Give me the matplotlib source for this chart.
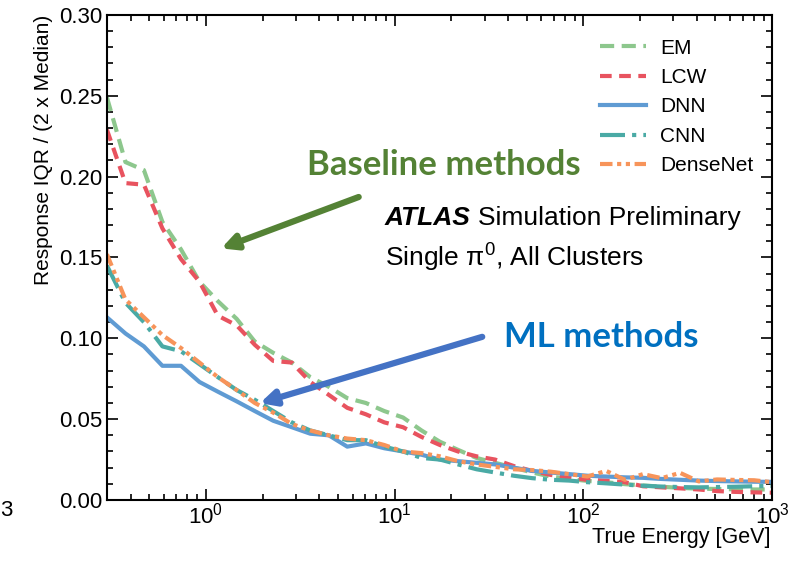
import numpy as np
import matplotlib
matplotlib.use("Agg")
import matplotlib.pyplot as plt
import matplotlib.ticker as tick

plt.rcParams['font.family'] = ['Liberation Sans', 'DejaVu Sans']
plt.rcParams['mathtext.fontset'] = 'custom'
plt.rcParams['mathtext.rm'] = 'Liberation Sans'
plt.rcParams['mathtext.it'] = 'Liberation Sans:italic'
plt.rcParams['mathtext.bf'] = 'Liberation Sans:bold'

# true energy bin centres [GeV]
energy = [0.300, 0.376, 0.471, 0.590, 0.740, 0.927, 1.16, 1.46, 1.82, 2.28,
          2.86, 3.58, 4.49, 5.62, 7.05, 8.83, 11.1, 13.9, 17.4, 21.7,
          27.2, 34.1, 42.8, 53.6, 67.2, 84.1, 105, 132, 166, 207,
          260, 325, 408, 511, 640, 802, 1000]

em = [0.249, 0.209, 0.204, 0.172, 0.155, 0.135, 0.123, 0.112, 0.098, 0.091,
      0.085, 0.076, 0.070, 0.063, 0.060, 0.055, 0.051, 0.043, 0.036, 0.031,
      0.026, 0.023, 0.020, 0.017, 0.0145, 0.013, 0.0118, 0.011, 0.0098, 0.009,
      0.0082, 0.0075, 0.0070, 0.0068, 0.0066, 0.0065, 0.0065]

lcw = [0.229, 0.196, 0.195, 0.168, 0.149, 0.135, 0.114, 0.108, 0.096, 0.086,
       0.085, 0.073, 0.065, 0.057, 0.053, 0.048, 0.045, 0.039, 0.034, 0.030,
       0.027, 0.025, 0.021, 0.018, 0.0155, 0.014, 0.0124, 0.012, 0.011, 0.0085,
       0.0078, 0.0072, 0.0065, 0.0055, 0.0050, 0.0047, 0.0045]

dnn = [0.113, 0.103, 0.095, 0.083, 0.083, 0.073, 0.067, 0.061, 0.055, 0.049,
       0.045, 0.041, 0.040, 0.033, 0.035, 0.032, 0.030, 0.028, 0.025, 0.024,
       0.023, 0.022, 0.020, 0.018, 0.017, 0.016, 0.015, 0.0145, 0.014, 0.0137,
       0.013, 0.0125, 0.012, 0.0117, 0.0115, 0.0113, 0.0112]

cnn = [0.145, 0.122, 0.110, 0.095, 0.092, 0.084, 0.076, 0.068, 0.062, 0.055,
       0.048, 0.043, 0.040, 0.037, 0.037, 0.033, 0.030, 0.026, 0.025, 0.022,
       0.019, 0.017, 0.015, 0.0135, 0.0125, 0.012, 0.011, 0.0103, 0.0095, 0.0088,
       0.0083, 0.0080, 0.0078, 0.0080, 0.0082, 0.0085, 0.0087]

densenet = [0.152, 0.124, 0.113, 0.102, 0.094, 0.085, 0.076, 0.068, 0.060, 0.054,
            0.047, 0.043, 0.040, 0.038, 0.037, 0.034, 0.030, 0.029, 0.027, 0.024,
            0.022, 0.0205, 0.019, 0.0185, 0.0175, 0.016, 0.0145, 0.018, 0.0125, 0.016,
            0.0135, 0.0168, 0.0115, 0.0127, 0.0124, 0.0122, 0.011]

fig = plt.figure(figsize=(7.92, 5.64), dpi=100)
ax = fig.add_axes([0.135, 0.1135, 0.84, 0.86])

lw = 3.0
ax.plot(energy, em, color='#8dc78d', lw=lw, dashes=(3.4, 1.8), label='EM')
ax.plot(energy, lcw, color='#e8535f', lw=lw, dashes=(2.8, 1.8), label='LCW')
ax.plot(energy, dnn, color='#5f9bd3', lw=lw, label='DNN')
ax.plot(energy, cnn, color='#4aaaa5', lw=lw, dashes=(6.0, 1.7, 1.0, 1.7), label='CNN')
ax.plot(energy, densenet, color='#f7945a', lw=lw, dashes=(3.0, 1.1, 1.0, 1.1, 1.0, 1.1), label='DenseNet')

ax.set_xscale('log')
ax.set_xlim(0.3, 1000)
ax.set_ylim(0, 0.30)
ax.yaxis.set_major_locator(tick.MultipleLocator(0.05))
ax.yaxis.set_minor_locator(tick.MultipleLocator(0.01))
ax.yaxis.set_major_formatter(tick.FormatStrFormatter('%.2f'))
ax.tick_params(which='both', direction='in', top=True, right=True, labelsize=16, width=1.2)
ax.tick_params(which='major', length=8)
ax.tick_params(which='minor', length=4)
ax.tick_params(axis='x', which='major', pad=2)
for s in ax.spines.values():
    s.set_linewidth(1.5)

ax.set_xlabel('True Energy [GeV]', fontsize=15.5, loc='right')
ax.xaxis.set_label_coords(0.997, -0.056)
ax.set_ylabel('Response IQR / (2 x Median)', fontsize=15, loc='top')

ax.legend(loc='upper right', bbox_to_anchor=(1.0, 0.99), frameon=False, fontsize=15,
          handlelength=2.2, handletextpad=0.7, labelspacing=0.5)

atlas = ax.text(0.418, 0.582, 'ATLAS', transform=ax.transAxes, fontsize=19, fontweight='bold',
                style='italic', va='center', ha='left')
ax.annotate('Simulation Preliminary', xy=(1, 0.5), xycoords=atlas, xytext=(5, 0),
            textcoords='offset points', fontsize=19, va='center', ha='left')
ax.text(0.418, 0.5, 'Single π$^0$, All Clusters', transform=ax.transAxes,
        fontsize=19, va='center', ha='left')

ax.text(0.507, 0.691, 'Baseline methods', transform=ax.transAxes, fontsize=25,
        fontweight='bold', family='Lato', color='#548235', ha='center', va='center')
ax.text(0.743, 0.336, 'ML methods', transform=ax.transAxes, fontsize=25,
        fontweight='bold', family='Lato', color='#0070c0', ha='center', va='center')

ax.annotate('', xy=(1.17, 0.155), xytext=(6.67, 0.188),
            arrowprops=dict(arrowstyle='-|>,head_length=0.9,head_width=0.45', lw=4.5, color='#548235'))
ax.annotate('', xy=(1.875, 0.0594), xytext=(30.1, 0.1014),
            arrowprops=dict(arrowstyle='-|>,head_length=0.9,head_width=0.45', lw=4.5, color='#4472c4'))

fig.text(0.0, 0.095, '3', fontsize=16, ha='left', va='center')

fig.savefig('out.png', dpi=100)
